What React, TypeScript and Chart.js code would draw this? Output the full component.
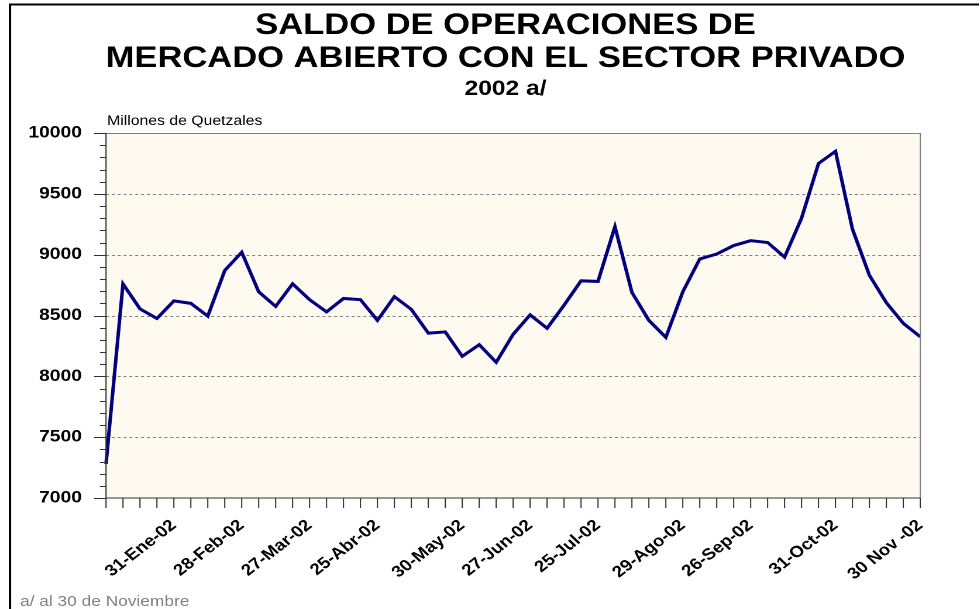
import React, { useEffect, useRef } from 'react';
import { Chart, registerables } from 'chart.js';

Chart.register(...registerables);

// Weekly observations, 2002
const categories = [
  '03-Ene-02', '10-Ene-02', '17-Ene-02', '24-Ene-02', '31-Ene-02',
  '07-Feb-02', '14-Feb-02', '21-Feb-02', '28-Feb-02',
  '07-Mar-02', '14-Mar-02', '21-Mar-02', '27-Mar-02',
  '04-Abr-02', '11-Abr-02', '18-Abr-02', '25-Abr-02',
  '02-May-02', '09-May-02', '16-May-02', '23-May-02', '30-May-02',
  '06-Jun-02', '13-Jun-02', '20-Jun-02', '27-Jun-02',
  '04-Jul-02', '11-Jul-02', '18-Jul-02', '25-Jul-02',
  '01-Ago-02', '08-Ago-02', '15-Ago-02', '22-Ago-02', '29-Ago-02',
  '05-Sep-02', '12-Sep-02', '19-Sep-02', '26-Sep-02',
  '03-Oct-02', '10-Oct-02', '17-Oct-02', '24-Oct-02', '31-Oct-02',
  '07-Nov-02', '14-Nov-02', '21-Nov-02', '28-Nov-02', '30 Nov -02',
];

const shownTicks = [
  '31-Ene-02', '28-Feb-02', '27-Mar-02', '25-Abr-02', '30-May-02', '27-Jun-02',
  '25-Jul-02', '29-Ago-02', '26-Sep-02', '31-Oct-02', '30 Nov -02',
];

// Millones de Quetzales
const saldo = [
  7280, 8760, 8555, 8475, 8620, 8600, 8495, 8870, 9020, 8695,
  8575, 8760, 8630, 8530, 8640, 8630, 8460, 8655, 8550, 8355,
  8365, 8165, 8260, 8115, 8345, 8505, 8395, 8585, 8785, 8780,
  9230, 8690, 8460, 8320, 8695, 8965, 9005, 9075, 9115, 9100,
  8980, 9300, 9750, 9850, 9210, 8830, 8605, 8435, 8325,
];

const yMin = 7000;
const yMax = 10000;
const yStep = 500;
const yMinorStep = 100;

const titleLines = ['SALDO DE OPERACIONES DE', 'MERCADO ABIERTO CON EL SECTOR PRIVADO'];
const subtitle = '2002 a/';
const unitLabel = 'Millones de Quetzales';
const footnote = 'a/ al 30 de Noviembre';

const STRETCH = 1.17;
const WIDTH = 980 / STRETCH;
const HEIGHT = 609;
const FONT = '"Liberation Sans", Arial, Helvetica, sans-serif';
const px = (x: number) => x / STRETCH;

export default function App() {
  const ref = useRef<HTMLCanvasElement>(null);

  useEffect(() => {
    document.body.style.margin = '0';
    const canvas = ref.current;
    if (!canvas) return;

    const decor = {
      id: 'decor',
      beforeDatasetsDraw(chart: any) {
        const { ctx, chartArea: a } = chart;
        const ys = chart.scales.y;
        ctx.save();
        ctx.fillStyle = '#FFFAEF';
        ctx.fillRect(a.left, a.top, a.right - a.left, a.bottom - a.top);
        ctx.strokeStyle = '#808080';
        ctx.lineWidth = 1;
        ctx.setLineDash([2.5, 2.5]);
        for (let v = yMin + yStep; v < yMax; v += yStep) {
          const y = Math.round(ys.getPixelForValue(v)) + 0.5;
          ctx.beginPath();
          ctx.moveTo(a.left, y);
          ctx.lineTo(a.right, y);
          ctx.stroke();
        }
        ctx.restore();
      },
      afterDraw(chart: any) {
        const { ctx, chartArea: a } = chart;
        const ys = chart.scales.y;
        const xs = chart.scales.x;
        ctx.save();
        // plot frame
        ctx.strokeStyle = '#808080';
        ctx.lineWidth = 1;
        ctx.beginPath();
        ctx.moveTo(a.left, Math.round(a.top) + 0.5);
        ctx.lineTo(a.right, Math.round(a.top) + 0.5);
        ctx.lineTo(a.right, a.bottom);
        ctx.stroke();
        // axes
        ctx.strokeStyle = '#303030';
        ctx.beginPath();
        ctx.moveTo(a.left, a.top);
        ctx.lineTo(a.left, a.bottom);
        ctx.lineTo(a.right, a.bottom);
        ctx.stroke();
        // y ticks
        for (let v = yMin; v <= yMax; v += yMinorStep) {
          const y = Math.round(ys.getPixelForValue(v)) + 0.5;
          const len = v % yStep === 0 ? px(12) : px(6);
          ctx.beginPath();
          ctx.moveTo(a.left - len, y);
          ctx.lineTo(a.left, y);
          ctx.stroke();
        }
        // x ticks
        for (let i = 0; i < categories.length; i++) {
          const x = xs.getPixelForValue(i);
          ctx.beginPath();
          ctx.moveTo(x, a.bottom);
          ctx.lineTo(x, a.bottom + 10);
          ctx.stroke();
        }
        // outer frame (left and top)
        ctx.strokeStyle = '#000';
        ctx.lineWidth = 2;
        ctx.beginPath();
        ctx.moveTo(px(10), HEIGHT);
        ctx.lineTo(px(10), 4.5);
        ctx.lineTo(chart.width, 4.5);
        ctx.stroke();
        // texts
        const cx = px(505.5);
        ctx.fillStyle = '#000';
        ctx.textAlign = 'center';
        ctx.textBaseline = 'alphabetic';
        ctx.font = `bold 29.5px ${FONT}`;
        ctx.fillText(titleLines[0], cx, 34);
        ctx.fillText(titleLines[1], cx, 67);
        ctx.font = `bold 21px ${FONT}`;
        ctx.fillText(subtitle, cx, 95);
        ctx.textAlign = 'left';
        ctx.font = `13.5px ${FONT}`;
        ctx.fillText(unitLabel, px(107), 125);
        ctx.fillStyle = '#808080';
        ctx.font = `14.8px ${FONT}`;
        ctx.fillText(footnote, px(20), 606);
        ctx.restore();
      },
    };

    const chart = new Chart(canvas, {
      type: 'line',
      data: {
        labels: categories,
        datasets: [
          {
            data: saldo,
            borderColor: '#000080',
            borderWidth: 3,
            pointRadius: 0,
            tension: 0,
            fill: false,
          },
        ],
      },
      options: {
        responsive: false,
        animation: false,
        devicePixelRatio: 2,
        layout: { padding: { left: 0, right: WIDTH - px(921), top: 133, bottom: 0 } },
        plugins: {
          legend: { display: false },
          tooltip: { enabled: false },
          title: { display: false },
        },
        scales: {
          x: {
            type: 'category',
            offset: false,
            grid: { display: false, drawTicks: false },
            border: { display: false },
            ticks: {
              autoSkip: false,
              maxRotation: 42,
              minRotation: 42,
              color: '#000',
              padding: 18,
              font: { family: FONT, size: 16, weight: 'bold' },
              callback: (_v: any, i: number) =>
                shownTicks.includes(categories[i]) ? categories[i] : '',
            },
            afterFit: (s: any) => {
              s.height = HEIGHT - 498;
            },
          },
          y: {
            min: yMin,
            max: yMax,
            grid: { display: false, drawTicks: false },
            border: { display: false },
            ticks: {
              stepSize: yStep,
              color: '#000',
              padding: px(106) - px(82),
              font: { family: FONT, size: 16.5, weight: 'bold' },
              callback: (v: any) => String(v),
            },
            afterFit: (s: any) => {
              s.width = px(106);
            },
          },
        },
      },
      plugins: [decor],
    } as any);

    return () => chart.destroy();
  }, []);

  return (
    <div style={{ width: 980, height: HEIGHT, overflow: 'hidden', background: '#fff' }}>
      <div
        style={{
          width: WIDTH,
          height: HEIGHT,
          transform: `scaleX(${STRETCH})`,
          transformOrigin: '0 0',
        }}
      >
        <canvas ref={ref} width={WIDTH} height={HEIGHT} />
      </div>
    </div>
  );
}
